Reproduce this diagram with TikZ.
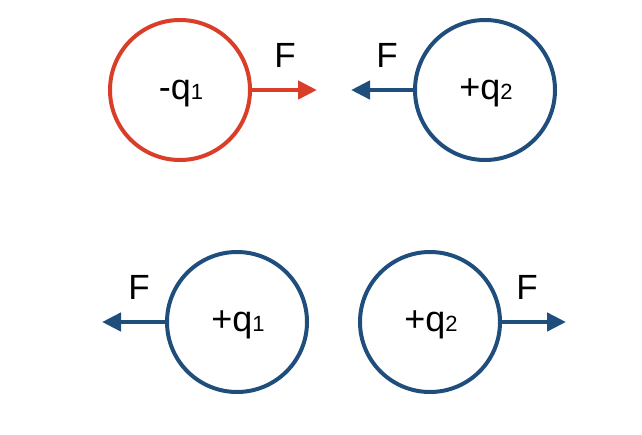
\documentclass[tikz,border=0pt]{standalone}
\usepackage{fontspec}
\setmainfont{Liberation Sans}
\usetikzlibrary{arrows.meta}
\definecolor{cred}{RGB}{218,62,40}
\definecolor{cblue}{RGB}{31,78,125}
\newcommand{\chg}[2]{#1q{\fontsize{22}{22}\selectfont #2}}
\tikzset{
  charge/.style={circle,draw,line width=4pt,minimum size=140pt,inner sep=0pt},
  force/.style={line width=4.5pt,-{Triangle[length=19pt,width=18pt]}},
  lab/.style={font=\fontsize{36}{36}\selectfont,anchor=base,inner sep=0pt},
  flab/.style={font=\fontsize{35}{35}\selectfont,anchor=base,inner sep=0pt}
}
\begin{document}
\begin{tikzpicture}[x=1pt,y=-1pt]
\useasboundingbox (0,0) rectangle (642,434);
% top row
\node[charge,cred] (q1a) at (180,90) {};
\node[lab] (t1a) at (181,99) {\chg{-}{1}};
\coordinate (e1a) at (317,90);
\draw[force,cred] (q1a.east) -- (e1a);
\node[flab] (f1a) at (285,67) {F};

\node[charge,cblue] (q2a) at (485,90) {};
\node[lab] (t2a) at (486,99) {\chg{+}{2}};
\coordinate (e2a) at (351,90);
\draw[force,cblue] (q2a.west) -- (e2a);
\node[flab] (f2a) at (387,67) {F};

% bottom row
\node[charge,cblue] (q1b) at (237,322) {};
\node[lab] (t1b) at (238,331) {\chg{+}{1}};
\coordinate (e1b) at (102,322);
\draw[force,cblue] (q1b.west) -- (e1b);
\node[flab] (f1b) at (139,299) {F};

\node[charge,cblue] (q2b) at (430,322) {};
\node[lab] (t2b) at (431,331) {\chg{+}{2}};
\coordinate (e2b) at (566,322);
\draw[force,cblue] (q2b.east) -- (e2b);
\node[flab] (f2b) at (527,299) {F};
\end{tikzpicture}
\end{document}
